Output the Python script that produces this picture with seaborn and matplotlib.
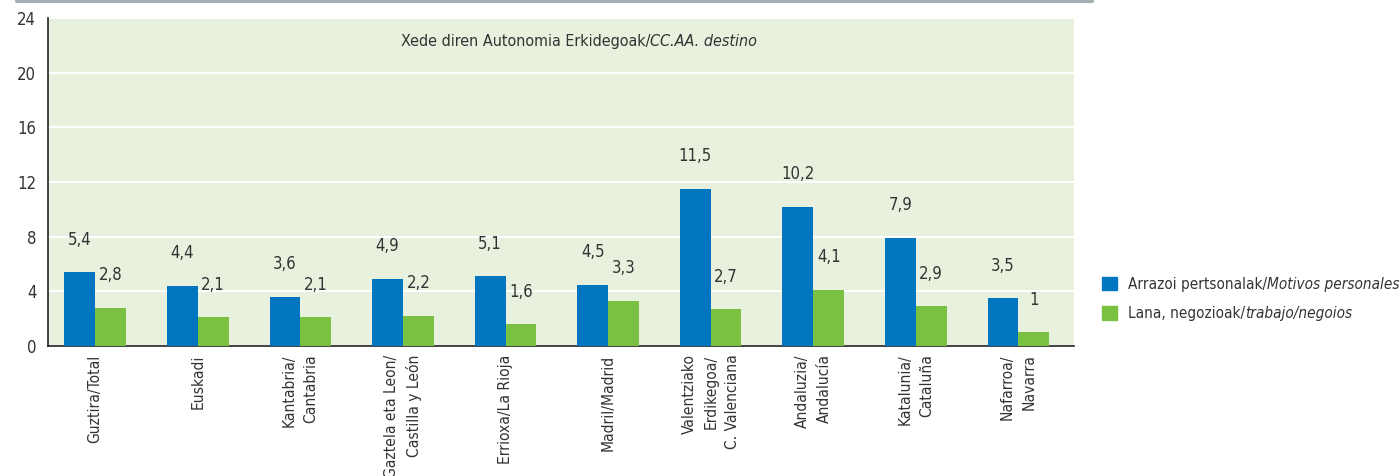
import numpy as np
import pandas as pd
import seaborn as sns
import matplotlib.pyplot as plt
from matplotlib.lines import Line2D

regions = [
    "Guztira/Total", "Euskadi", "Kantabria/\nCantabria",
    "Gaztela eta Leon/\nCastilla y León", "Errioxa/La Rioja", "Madril/Madrid",
    "Valentziako\nErdikegoa/\nC. Valenciana", "Andaluzia/\nAndalucía",
    "Katalunia/\nCataluña", "Nafarroa/\nNavarra",
]
personal = [5.4, 4.4, 3.6, 4.9, 5.1, 4.5, 11.5, 10.2, 7.9, 3.5]
work = [2.8, 2.1, 2.1, 2.2, 1.6, 3.3, 2.7, 4.1, 2.9, 1.0]
series = ["Arrazoi pertsonalak/", "Lana, negozioak/"]
series_es = ["Motivos personales", "trabajo/negoios"]
y_ticks = [0, 4, 8, 12, 16, 20, 24]

df = pd.DataFrame({
    "region": regions * 2,
    "value": personal + work,
    "series": [series[0]] * len(regions) + [series[1]] * len(regions),
})

sns.set_style("white")
plt.rcParams["font.family"] = ["DejaVu Sans"]
plt.rcParams["font.stretch"] = "condensed"

fig = plt.figure(figsize=(14, 4.76), dpi=100)
ax = fig.add_axes([0.0343, 0.273, 0.7327, 0.689])
ax.set_facecolor("#e8f0de")

blue, green = "#0076c0", "#7ac143"
sns.barplot(data=df, x="region", y="value", hue="series", order=regions,
            palette=[blue, green], width=0.6, saturation=1, ax=ax,
            legend=False, zorder=3, linewidth=0)

for cont in ax.containers:
    ax.bar_label(cont, labels=[("%g" % b.get_height()).replace(".", ",") for b in cont],
                 padding=17, fontsize=12, color="#333333")

ax.set_ylim(0, 24)
ax.set_xlim(-0.46, len(regions) - 0.46)
ax.set_yticks(y_ticks)
ax.tick_params(axis="y", labelsize=12, length=5, color="#333333", labelcolor="#333333")
ax.yaxis.grid(True, color="white", lw=1.5, zorder=0)
ax.set_axisbelow(True)

ax.set_xticks(range(len(regions)))
ax.set_xticklabels(regions, rotation=90, va="top", ha="center",
                   multialignment="right", fontsize=11.2, color="#333333",
                   linespacing=1.55)
ax.tick_params(axis="x", which="major", length=0, pad=6)
ax.set_xticks(np.arange(-0.46, len(regions), 1), minor=True)
ax.tick_params(axis="x", which="minor", length=5, color="#333333")

ax.set_xlabel("")
ax.set_ylabel("")
for s in ["top", "right"]:
    ax.spines[s].set_visible(False)
for s in ["left", "bottom"]:
    ax.spines[s].set_color("#222222")
    ax.spines[s].set_linewidth(1.2)

ax.text(0.587, 0.93, "Xede diren Autonomia Erkidegoak/", transform=ax.transAxes,
        ha="right", va="center", fontsize=11.5, color="#333333")
ax.text(0.587, 0.93, "CC.AA. destino", transform=ax.transAxes, ha="left",
        va="center", fontsize=11.5, color="#333333", style="italic")

# legend
handles = [plt.Rectangle((0, 0), 1, 1, color=blue), plt.Rectangle((0, 0), 1, 1, color=green)]
leg = fig.legend(handles, series,
                 loc="center left", bbox_to_anchor=(0.787, 0.372), frameon=False,
                 fontsize=11, handlelength=1.0, handleheight=1.0, handletextpad=0.7,
                 labelspacing=0.95, borderaxespad=0, borderpad=0)
fig.canvas.draw()
for t, es in zip(leg.get_texts(), series_es):
    t.set_color("#333333")
    ax.annotate(es, xy=(1, 0), xycoords=t, ha="left", va="bottom",
                fontsize=11, style="italic", color="#333333", annotation_clip=False)

fig.add_artist(Line2D([0.012, 0.78], [0.997, 0.997], color="#a6b0b3", lw=3))

fig.savefig("out.png", dpi=100)
plt.close()
